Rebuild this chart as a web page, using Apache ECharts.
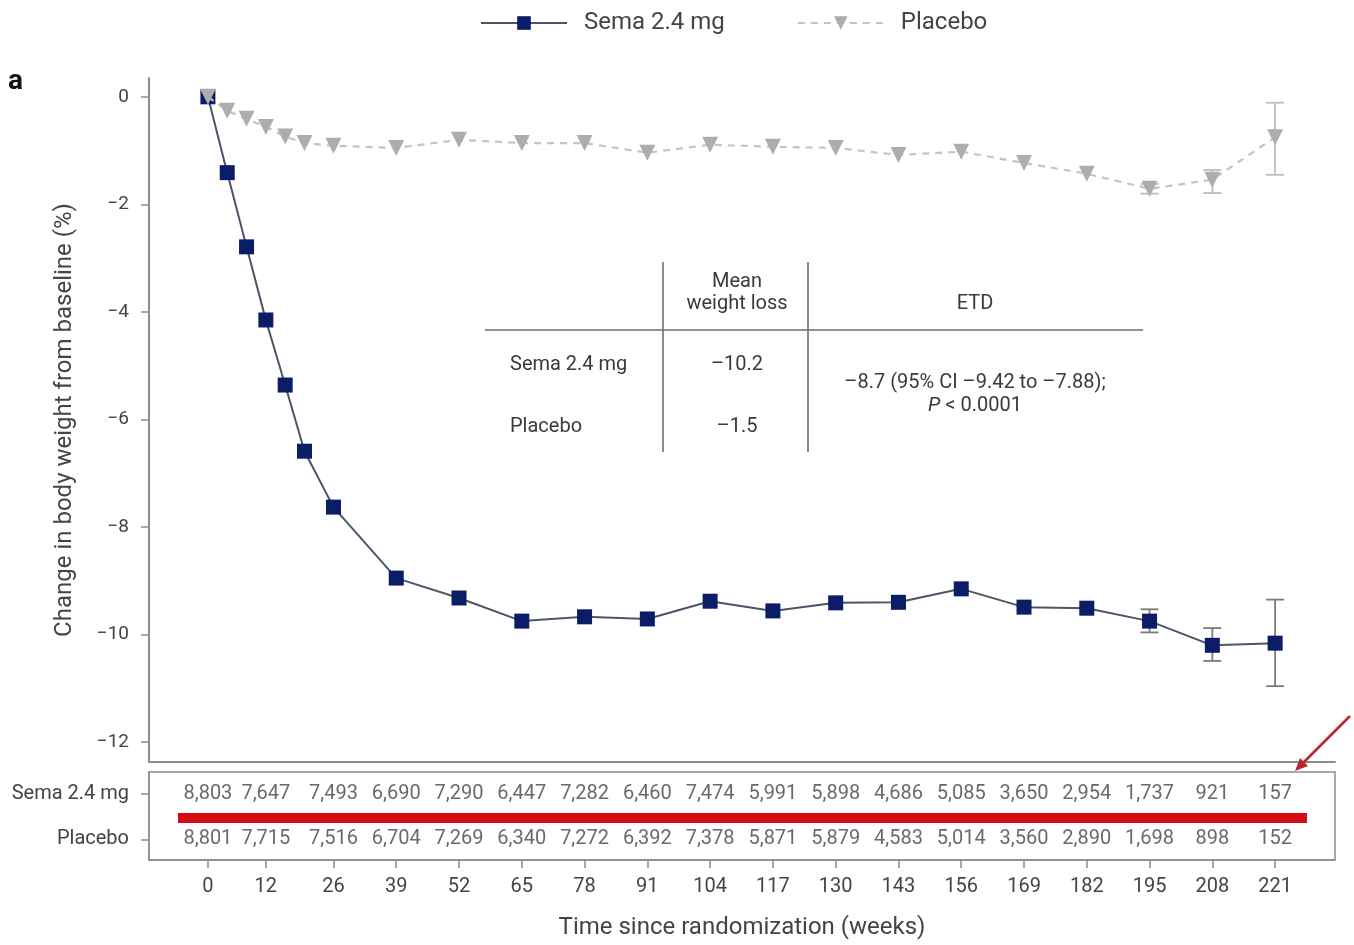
<!DOCTYPE html>
<html lang="en">
<head>
    <meta charset="UTF-8">
    <title>Sema 2.4 mg vs Placebo</title>
    <style>
        html, body { margin: 0; padding: 0; background: #fff; }
        .box { width: 1354px; height: 945px; }
    </style>
</head>
<body>
    <div class="box"></div>
    <script src="https://cdn.jsdelivr.net/npm/echarts@6/dist/echarts.min.js"></script>
    <script>
        // data
        var weeks = [0, 4, 8, 12, 16, 20, 26, 39, 52, 65, 78, 91, 104, 117, 130, 143, 156, 169, 182, 195, 208, 221];
        var semaMean = [0, -1.41, -2.79, -4.15, -5.36, -6.59, -7.63, -8.95, -9.32, -9.75, -9.67, -9.71, -9.38, -9.56, -9.41, -9.40, -9.15, -9.49, -9.51, -9.75, -10.2, -10.16];
        var placeboMean = [0, -0.26, -0.41, -0.56, -0.74, -0.86, -0.91, -0.95, -0.80, -0.86, -0.86, -1.04, -0.89, -0.93, -0.95, -1.08, -1.02, -1.23, -1.43, -1.71, -1.54, -0.75];

        var errWeeks = [195, 208, 221];
        var semaLow = [-9.96, -10.49, -10.96];
        var semaHigh = [-9.53, -9.88, -9.35];
        var placeboLow = [-1.80, -1.79, -1.45];
        var placeboHigh = [-1.62, -1.36, -0.11];

        var tickWeeks = [0, 12, 26, 39, 52, 65, 78, 91, 104, 117, 130, 143, 156, 169, 182, 195, 208, 221];
        var yTicks = [0, -2, -4, -6, -8, -10, -12];
        var semaAtRisk = ['8,803', '7,647', '7,493', '6,690', '7,290', '6,447', '7,282', '6,460', '7,474', '5,991', '5,898', '4,686', '5,085', '3,650', '2,954', '1,737', '921', '157'];
        var placeboAtRisk = ['8,801', '7,715', '7,516', '6,704', '7,269', '6,340', '7,272', '6,392', '7,378', '5,871', '5,879', '4,583', '5,014', '3,560', '2,890', '1,698', '898', '152'];

        var groups = ['Sema 2.4 mg', 'Placebo'];
        var meanLoss = ['\u201310.2', '\u20131.5'];

        var font = 'Roboto, "Liberation Sans", sans-serif';
        var axisGray = '#8c8c8c';
        var textGray = '#444';

        var myChart = echarts.init(document.getElementsByClassName('box')[0]);

        function pairs(xs, ys) {
            return xs.map(function (x, i) { return [x, ys[i]]; });
        }

        function errData(low, high) {
            return errWeeks.map(function (w, i) { return [w, low[i], high[i]]; });
        }

        function errBar(color) {
            return function (params, api) {
                var lo = api.coord([api.value(0), api.value(1)]);
                var hi = api.coord([api.value(0), api.value(2)]);
                var cap = 9;
                var st = { stroke: color, lineWidth: 1.8 };
                return {
                    type: 'group',
                    children: [
                        { type: 'line', shape: { x1: lo[0], y1: lo[1], x2: hi[0], y2: hi[1] }, style: st },
                        { type: 'line', shape: { x1: lo[0] - cap, y1: lo[1], x2: lo[0] + cap, y2: lo[1] }, style: st },
                        { type: 'line', shape: { x1: hi[0] - cap, y1: hi[1], x2: hi[0] + cap, y2: hi[1] }, style: st }
                    ]
                };
            };
        }

        // row 1 = Sema, row 0 = Placebo
        function atRisk(row, labels) {
            return tickWeeks.map(function (w, i) { return [w, row, labels[i]]; });
        }

        function txt(x, y, s, align, extra) {
            var o = {
                type: 'text', x: x, y: y, silent: true,
                style: {
                    text: s, fill: '#3a3a3a', font: '20px ' + font,
                    align: align || 'center', verticalAlign: 'middle'
                }
            };
            if (extra) { for (var k in extra) o.style[k] = extra[k]; }
            return o;
        }

        function ln(x1, y1, x2, y2) {
            return { type: 'line', silent: true, shape: { x1: x1, y1: y1, x2: x2, y2: y2 }, style: { stroke: '#6e6e6e', lineWidth: 1.6 } };
        }

        var xMin = -12.2, xMax = 233.4;

        var option = {
            animation: false,
            textStyle: { fontFamily: font },
            legend: {
                top: 6,
                left: 475,
                itemWidth: 86,
                itemHeight: 17,
                itemGap: 72,
                data: groups,
                textStyle: { fontSize: 24, color: textGray, fontFamily: font, padding: [0, 0, 0, 12] }
            },
            grid: [
                { left: 149, right: 19, top: 78, height: 684 },
                { left: 149, right: 19, top: 772, height: 88, show: true, borderColor: axisGray, borderWidth: 1.5 }
            ],
            xAxis: [
                {
                    type: 'value', gridIndex: 0, min: xMin, max: xMax,
                    axisLine: { show: true, onZero: false, lineStyle: { color: axisGray, width: 2 } },
                    axisTick: { show: false }, axisLabel: { show: false }, splitLine: { show: false }
                },
                {
                    type: 'value', gridIndex: 1, min: xMin, max: xMax,
                    name: 'Time since randomization (weeks)',
                    nameLocation: 'middle', nameGap: 56,
                    nameTextStyle: { fontSize: 24, color: textGray, fontFamily: font },
                    axisLine: { show: true, onZero: false, lineStyle: { color: axisGray, width: 1.5 } },
                    axisTick: { show: true, customValues: tickWeeks, length: 8, lineStyle: { color: axisGray, width: 1.5 } },
                    axisLabel: { customValues: tickWeeks, margin: 17, fontSize: 20, color: textGray, fontFamily: font },
                    splitLine: { show: false }
                }
            ],
            yAxis: [
                {
                    type: 'value', gridIndex: 0, min: -12.37, max: 0.35,
                    name: 'Change in body weight from baseline (%)',
                    nameLocation: 'middle', nameGap: 72,
                    nameTextStyle: { fontSize: 24, color: textGray, fontFamily: font },
                    axisLine: { show: true, onZero: false, lineStyle: { color: axisGray, width: 2 } },
                    axisTick: { show: true, customValues: yTicks, length: 8, lineStyle: { color: axisGray, width: 1.5 } },
                    axisLabel: {
                        customValues: yTicks, margin: 20, fontSize: 19, color: textGray, fontFamily: font,
                        formatter: function (v) { return v === 0 ? '0' : '\u2212' + Math.abs(v); }
                    },
                    splitLine: { show: false }
                },
                {
                    type: 'value', gridIndex: 1, min: -0.45, max: 1.48,
                    axisLine: { show: true, onZero: false, lineStyle: { color: axisGray, width: 1.5 } },
                    axisTick: { show: true, customValues: [0, 1], length: 8, lineStyle: { color: axisGray, width: 1.5 } },
                    axisLabel: {
                        customValues: [0, 1], margin: 20, fontSize: 20, color: textGray, fontFamily: font,
                        formatter: function (v) { return v === 1 ? groups[0] : groups[1]; }
                    },
                    splitLine: { show: false }
                }
            ],
            series: [
                {
                    type: 'custom', xAxisIndex: 0, yAxisIndex: 0, z: 1,
                    renderItem: errBar('#bdbdbd'), data: errData(placeboLow, placeboHigh), silent: true
                },
                {
                    type: 'custom', xAxisIndex: 0, yAxisIndex: 0, z: 1,
                    renderItem: errBar('#7a7a7a'), data: errData(semaLow, semaHigh), silent: true
                },
                {
                    name: 'Sema 2.4 mg', type: 'line', xAxisIndex: 0, yAxisIndex: 0, z: 2,
                    data: pairs(weeks, semaMean),
                    symbol: 'rect', symbolSize: 15, showAllSymbol: true,
                    itemStyle: { color: '#0b1d66' },
                    lineStyle: { color: '#4b5567', width: 2 }
                },
                {
                    name: 'Placebo', type: 'line', xAxisIndex: 0, yAxisIndex: 0, z: 3,
                    data: pairs(weeks, placeboMean),
                    symbol: 'triangle', symbolRotate: 180, symbolSize: 16, showAllSymbol: true,
                    itemStyle: { color: '#adadad' },
                    lineStyle: { color: '#c4c4c4', width: 2.2, type: [7, 6] }
                },
                {
                    type: 'scatter', xAxisIndex: 1, yAxisIndex: 1, symbolSize: 0, silent: true,
                    data: atRisk(1, semaAtRisk).concat(atRisk(0, placeboAtRisk)),
                    label: {
                        show: true, position: 'inside', fontSize: 20, color: textGray, fontFamily: font,
                        formatter: function (p) { return p.data[2]; }
                    }
                }
            ],
            graphic: [
                { type: 'text', x: 8, y: 82, silent: true, style: { text: 'a', font: 'bold 28px ' + font, fill: '#111', verticalAlign: 'middle' } },
                // inset table
                ln(485, 330, 1143, 330),
                ln(663, 262, 663, 452),
                ln(808, 262, 808, 452),
                txt(737, 282, 'Mean'),
                txt(737, 304, 'weight loss'),
                txt(975, 304, 'ETD'),
                txt(510, 365, groups[0], 'left'),
                txt(510, 427, groups[1], 'left'),
                txt(737, 365, meanLoss[0]),
                txt(737, 427, meanLoss[1]),
                txt(975, 383, '\u20138.7 (95% CI \u20139.42 to \u20137.88);'),
                {
                    type: 'text', x: 975, y: 406, silent: true,
                    style: {
                        text: '{i|P} < 0.0001', align: 'center', verticalAlign: 'middle',
                        font: '20px ' + font, fill: '#3a3a3a',
                        rich: { i: { fontStyle: 'italic', fontSize: 20, fontFamily: font, fill: '#3a3a3a' } }
                    }
                },
                // red highlight and arrow
                { type: 'line', silent: true, z: 10, shape: { x1: 178, y1: 818, x2: 1307, y2: 818 }, style: { stroke: '#d40b12', lineWidth: 10 } },
                { type: 'line', silent: true, z: 10, shape: { x1: 1350, y1: 716, x2: 1302, y2: 764 }, style: { stroke: '#b8262a', lineWidth: 2.5 } },
                { type: 'polygon', silent: true, z: 10, shape: { points: [[1295, 771], [1308, 766], [1300, 758]] }, style: { fill: '#b8262a' } }
            ]
        };

        myChart.setOption(option);
    </script>
</body>
</html>
